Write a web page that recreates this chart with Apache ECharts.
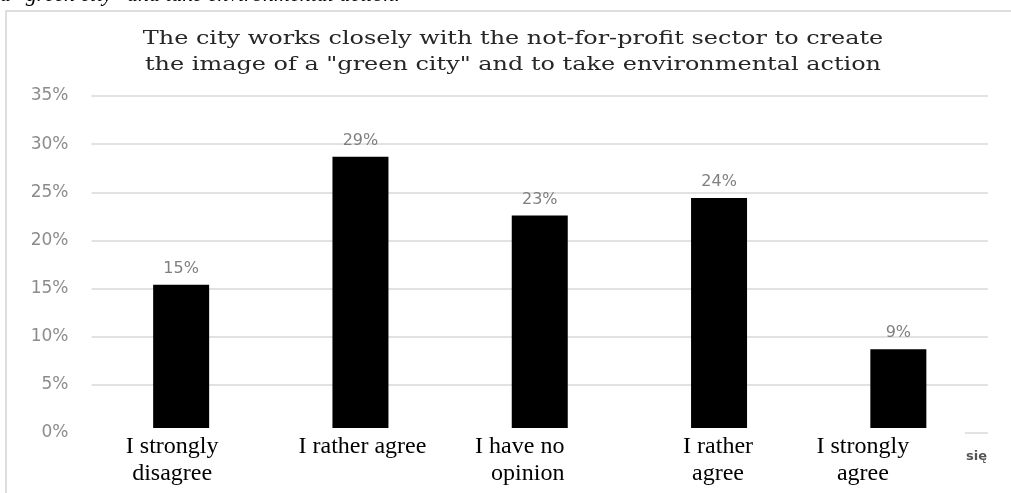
<!DOCTYPE html>
<html>
<head>
<meta charset="utf-8">
<script src="https://cdn.jsdelivr.net/npm/echarts@6/dist/echarts.min.js"></script>
<style>
html, body { margin: 0; padding: 0; background: #fff; }
#main { width: 1011px; height: 493px; }
</style>
</head>
<body>
<div id="main"></div>
<script>
// answers (x axis) and share of respondents in %
var categories = ['I strongly\ndisagree', 'I rather agree', 'I have no\nopinion', 'I rather\nagree', 'I strongly\nagree'];
var shares = [15.4, 28.7, 22.6, 24.4, 8.7];
var chartTitle = 'The city works closely with the not-for-profit sector to create\nthe image of a "green city" and to take environmental action';
var captionText = 'a "green city" and take environmental action.';

// label boxes are not centred on the bars in the source, shift them a bit
var labelPad = [[0, 18], [4, 0], [0, 40], [0, 2], [0, 71]];

var chart = echarts.init(document.getElementById('main'));

var xData = categories.map(function (c, i) {
  return {
    value: c,
    textStyle: {
      backgroundColor: '#fff',
      padding: [5, labelPad[i][1], 0, labelPad[i][0]]
    }
  };
});

var option = {
  animation: false,
  grid: {
    left: 91.5,
    right: 23,
    top: 96,
    bottom: 60,
    outerBoundsMode: 'none'
  },
  xAxis: {
    type: 'category',
    data: xData,
    z: 5,
    axisLine: { show: false },
    axisTick: { show: false },
    axisLabel: {
      interval: 0,
      margin: -5,
      fontFamily: 'Liberation Serif',
      fontSize: 24,
      lineHeight: 27,
      color: '#000',
      formatter: function (value, idx) {
        if (idx === 2) {
          return value.split('\n').map(function (s) { return '{r|' + s + '}'; }).join('\n');
        }
        return value;
      },
      rich: {
        r: {
          align: 'right',
          fontFamily: 'Liberation Serif',
          fontSize: 24,
          lineHeight: 27,
          color: '#000'
        }
      }
    }
  },
  yAxis: {
    type: 'value',
    min: 0,
    max: 35,
    interval: 5,
    axisLine: { show: false },
    axisTick: { show: false },
    axisLabel: {
      formatter: '{value}%',
      margin: 23,
      fontFamily: 'DejaVu Sans',
      fontSize: 17,
      color: '#8c8c8c'
    },
    splitLine: {
      showMinLine: false,
      lineStyle: { color: '#d9d9d9', width: 1.5 }
    }
  },
  series: [{
    type: 'bar',
    data: shares,
    barWidth: 56,
    itemStyle: { color: '#000' },
    label: {
      show: true,
      position: 'top',
      distance: 8,
      fontFamily: 'DejaVu Sans',
      fontSize: 16,
      color: '#7f7f7f',
      formatter: function (p) { return Math.round(p.value) + '%'; }
    }
  }],
  graphic: [
    {
      // title is stretched sideways in the source picture
      type: 'text',
      z: 20,
      x: 513,
      y: 26,
      scaleX: 1.26,
      style: {
        text: chartTitle,
        align: 'center',
        font: '19px "DejaVu Serif"',
        lineHeight: 26,
        fill: '#262626'
      }
    },
    {
      type: 'rect',
      z: 20,
      shape: { x: 6, y: 11, width: 1030, height: 520 },
      style: { fill: 'none', stroke: '#d4d4d4', lineWidth: 1.5 }
    },
    {
      type: 'text',
      z: 20,
      x: 0,
      y: -16,
      style: { text: captionText, font: 'italic 22px "Liberation Serif"', fill: '#000' }
    },
    {
      type: 'line',
      z: 20,
      shape: { x1: 965, y1: 433, x2: 988, y2: 433 },
      style: { stroke: '#d9d9d9', lineWidth: 1.5 }
    },
    {
      type: 'text',
      z: 20,
      x: 966,
      y: 450,
      style: { text: 'się', font: 'bold 13px "DejaVu Sans"', fill: '#555' }
    }
  ]
};

chart.setOption(option);
</script>
</body>
</html>
